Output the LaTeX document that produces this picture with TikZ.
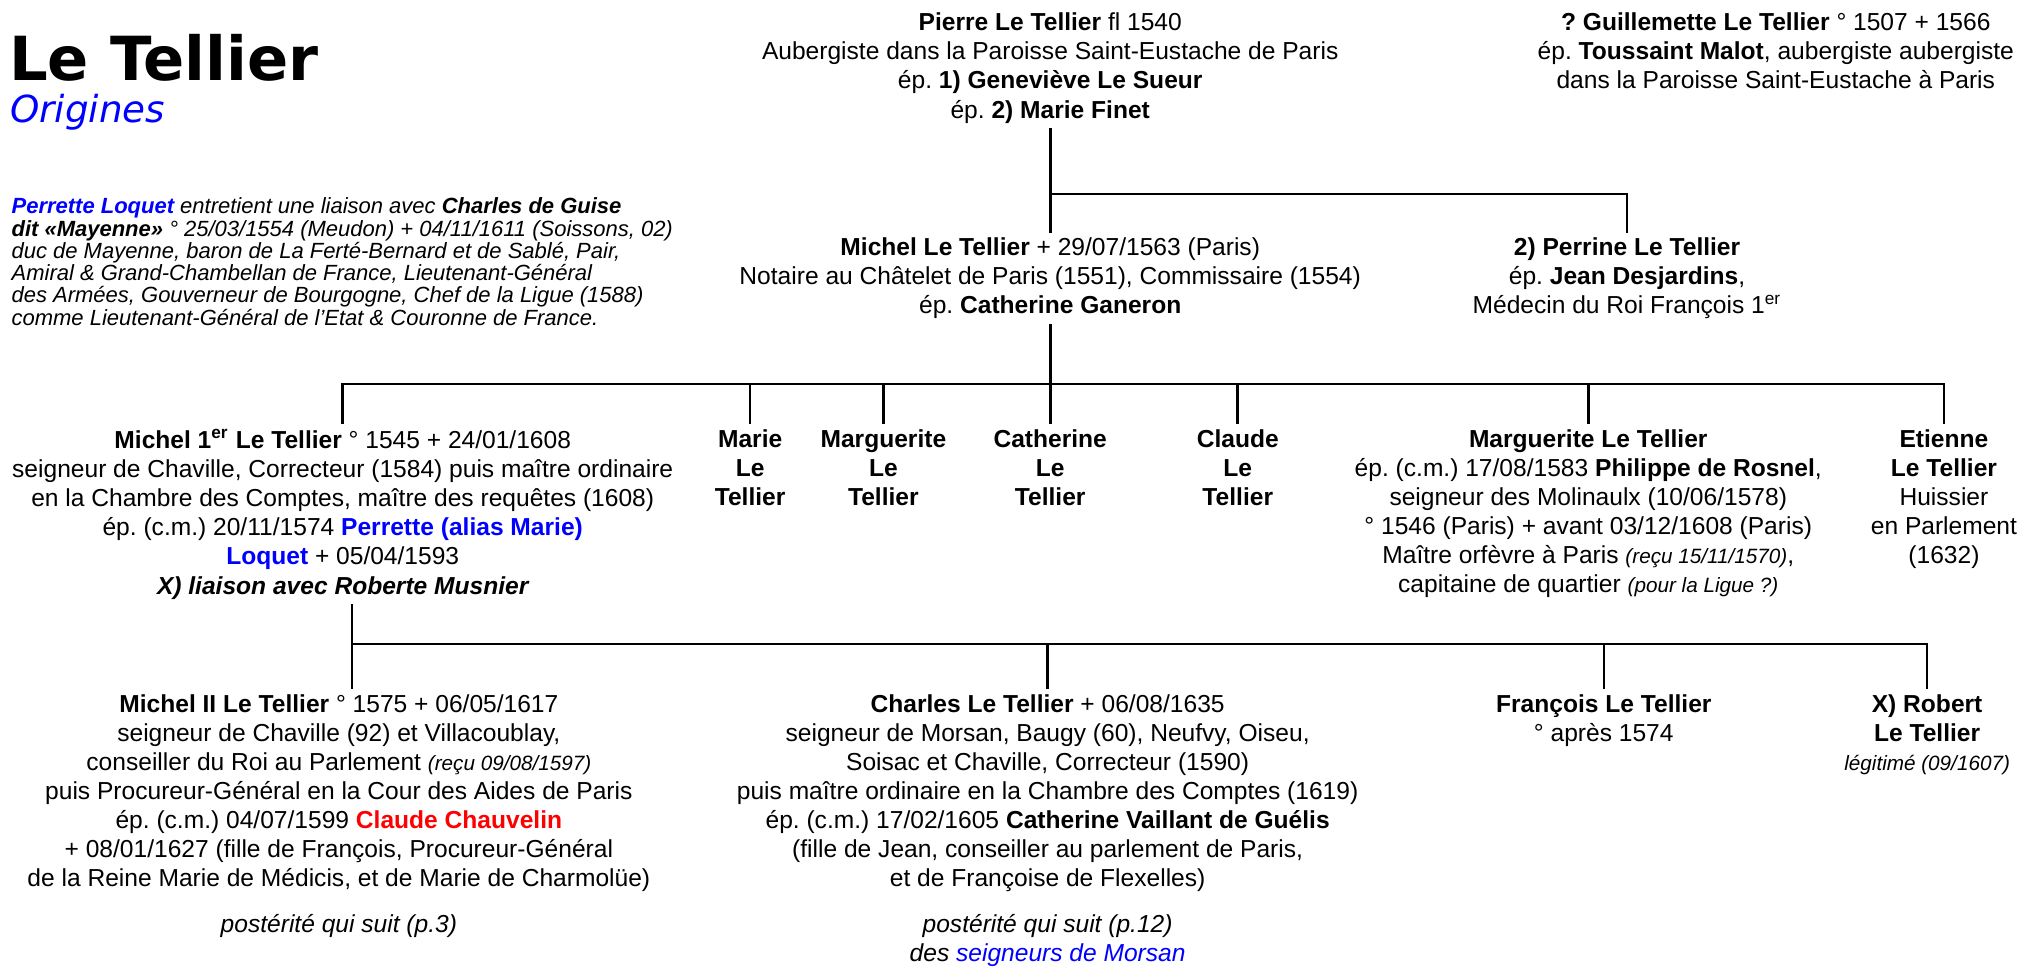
\documentclass[tikz,border=0pt]{standalone}
\usepackage{fontspec}
\setmainfont{Liberation Sans}
\newfontfamily\titlefont{DejaVu Sans}
\definecolor{lblue}{RGB}{0,0,255}
\definecolor{cred}{RGB}{255,0,0}
\begin{document}
\frenchspacing
\begin{tikzpicture}[x=0.5pt, y=-0.5pt, line width=1pt,
  person/.style={anchor=north, align=center, inner sep=1.5pt, font=\fontsize{9.5}{11.25}\selectfont}]
\useasboundingbox (0,0) rectangle (1568,747);
\node[anchor=base west, inner sep=0, font=\titlefont\bfseries\fontsize{23.5}{28}\selectfont] (title) at (6,62) {Le Tellier};
\node[anchor=base west, inner sep=0, text=lblue, font=\titlefont\itshape\fontsize{14.4}{17}\selectfont] (subtitle) at (7,95) {Origines};
\node[anchor=north west, align=left, inner sep=0, font=\itshape\fontsize{8.5}{8.6}\selectfont] (note) at (8,152) {%
{\bfseries\color{lblue}Perrette Loquet} entretient une liaison avec \textbf{Charles de Guise}\\
\textbf{dit «Mayenne»} ° 25/03/1554 (Meudon) + 04/11/1611 (Soissons, 02)\\
duc de Mayenne, baron de La Ferté-Bernard et de Sablé, Pair,\\
Amiral \& Grand-Chambellan de France, Lieutenant-Général\\
des Armées, Gouverneur de Bourgogne, Chef de la Ligue (1588)\\
comme Lieutenant-Général de l’Etat \& Couronne de France.};
\node[person] (pierre) at (812,6) {\textbf{Pierre Le Tellier} fl 1540\\
Aubergiste dans la Paroisse Saint-Eustache de Paris\\
ép. \textbf{1) Geneviève Le Sueur}\\
ép. \textbf{2) Marie Finet}};
\node[person] (guil) at (1373,6) {\textbf{? Guillemette Le Tellier} ° 1507 + 1566\\
ép. \textbf{Toussaint Malot}, aubergiste aubergiste\\
dans la Paroisse Saint-Eustache à Paris};
\node[person] (michel) at (812,180) {\textbf{Michel Le Tellier} + 29/07/1563 (Paris)\\
Notaire au Châtelet de Paris (1551), Commissaire (1554)\\
ép. \textbf{Catherine Ganeron}};
\node[person] (perrine) at (1258,180) {\textbf{2) Perrine Le Tellier}\\
ép. \textbf{Jean Desjardins},\\
Médecin du Roi François 1\textsuperscript{er}};
\node[person] (michelI) at (265,328) {\textbf{Michel 1\textsuperscript{er} Le Tellier} ° 1545 + 24/01/1608\\
seigneur de Chaville, Correcteur (1584) puis maître ordinaire\\
en la Chambre des Comptes, maître des requêtes (1608)\\
ép. (c.m.) 20/11/1574 {\bfseries\color{lblue}Perrette (alias Marie)}\\
{\bfseries\color{lblue}Loquet} + 05/04/1593\\
{\bfseries\itshape X) liaison avec Roberte Musnier}};
\node[person, font=\fontsize{9.5}{11.25}\selectfont\bfseries] (marie) at (580,328) {Marie\\Le\\Tellier};
\node[person, font=\fontsize{9.5}{11.25}\selectfont\bfseries] (marg) at (683,328) {Marguerite\\Le\\Tellier};
\node[person, font=\fontsize{9.5}{11.25}\selectfont\bfseries] (cath) at (812,328) {Catherine\\Le\\Tellier};
\node[person, font=\fontsize{9.5}{11.25}\selectfont\bfseries] (claude) at (957,328) {Claude\\Le\\Tellier};
\node[person] (margLT) at (1228,328) {\textbf{Marguerite Le Tellier}\\
ép. (c.m.) 17/08/1583 \textbf{Philippe de Rosnel},\\
seigneur des Molinaulx (10/06/1578)\\
° 1546 (Paris) + avant 03/12/1608 (Paris)\\
Maître orfèvre à Paris {\fontsize{8}{10}\selectfont\itshape (reçu 15/11/1570)},\\
capitaine de quartier {\fontsize{8}{10}\selectfont\itshape (pour la Ligue ?)}};
\node[person] (etienne) at (1503,328) {\textbf{Etienne}\\ \textbf{Le Tellier}\\ Huissier\\ en Parlement\\ (1632)};
\node[person] (michelII) at (262,533) {\textbf{Michel II Le Tellier} ° 1575 + 06/05/1617\\
seigneur de Chaville (92) et Villacoublay,\\
conseiller du Roi au Parlement {\fontsize{8}{10}\selectfont\itshape (reçu 09/08/1597)}\\
puis Procureur-Général en la Cour des Aides de Paris\\
ép. (c.m.) 04/07/1599 {\bfseries\color{cred}Claude Chauvelin}\\
+ 08/01/1627 (fille de François, Procureur-Général\\
de la Reine Marie de Médicis, et de Marie de Charmolüe)\\[6.5pt]
\textit{postérité qui suit (p.3)}};
\node[person] (charles) at (810,533) {\textbf{Charles Le Tellier} + 06/08/1635\\
seigneur de Morsan, Baugy (60), Neufvy, Oiseu,\\
Soisac et Chaville, Correcteur (1590)\\
puis maître ordinaire en la Chambre des Comptes (1619)\\
ép. (c.m.) 17/02/1605 \textbf{Catherine Vaillant de Guélis}\\
(fille de Jean, conseiller au parlement de Paris,\\
et de Françoise de Flexelles)\\[6.5pt]
\textit{postérité qui suit (p.12)}\\
\textit{des {\color{lblue}seigneurs de Morsan}}};
\node[person] (francois) at (1240,533) {\textbf{François Le Tellier}\\ ° après 1574};
\node[person] (robert) at (1490,533) {\textbf{X) Robert}\\ \textbf{Le Tellier}\\ {\fontsize{8}{10}\selectfont\itshape légitimé (09/1607)}};
\coordinate (b1) at (812,150);
\coordinate (b2) at (265,297);
\coordinate (b3) at (272,498);
\draw (pierre.south) -- (michel.north);
\draw (b1) -| (perrine.north);
\draw (michel.south) -- (cath.north);
\draw (michelI.north) |- (b2) -| (etienne.north);
\foreach \n in {marie,marg,claude,margLT}
  \draw (b2 -| \n.north) -- (\n.north);
\draw (b3 |- michelI.south) -- (b3 |- michelII.north);
\draw (b3) -| (robert.north);
\foreach \n in {charles,francois}
  \draw (b3 -| \n.north) -- (\n.north);
\end{tikzpicture}
\end{document}
